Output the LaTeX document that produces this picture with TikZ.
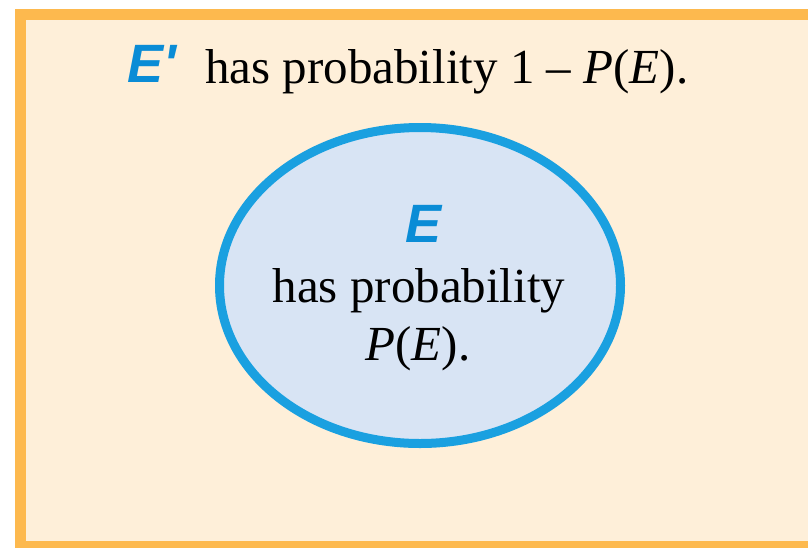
\documentclass[tikz,border=0pt]{standalone}
\usepackage{fontspec}
\setmainfont{Liberation Serif}
\newfontfamily\labelfont{Liberation Sans}
\usepackage{xcolor}
\usetikzlibrary{shapes.geometric,positioning}

\definecolor{frameorange}{RGB}{253,185,78}
\definecolor{cream}{RGB}{254,239,217}
\definecolor{eventfill}{RGB}{216,228,244}
\definecolor{eventline}{RGB}{26,160,224}
\definecolor{letterblue}{RGB}{10,140,214}

\begin{document}
\begin{tikzpicture}[
    x=1pt, y=-1pt,
    space/.style={draw=frameorange, fill=cream, line width=11pt},
    event/.style={ellipse, draw=eventline, fill=eventfill, line width=9pt, minimum width=401pt, minimum height=316pt, inner sep=0pt},
    setname/.style={anchor=base, inner sep=0pt, text=letterblue, font=\labelfont\bfseries\itshape\fontsize{54}{60}\selectfont},
    words/.style={anchor=base, inner sep=0pt, font=\fontsize{49}{58}\selectfont},
]
    \useasboundingbox (0,0) rectangle (808,547);
    \clip (0,0) rectangle (808,547);

    % sample space
    \draw[space] (20,14.5) rectangle (830,546);
    \node[setname, anchor=base west] (comp) at (127,82) {E'};
    \node[words, anchor=base west] (comptext) at (205,83) {has probability 1 – \textit{P}(\textit{E}).};

    % event
    \node[event] (evt) at (420,285.5) {};
    \node[setname] (ename) at (424,242) {E};
    \node[words] (etext1) at (419,302) {has probability};
    \node[words] (etext2) at (418,360) {\textit{P}(\textit{E}).};

\end{tikzpicture}
\end{document}
